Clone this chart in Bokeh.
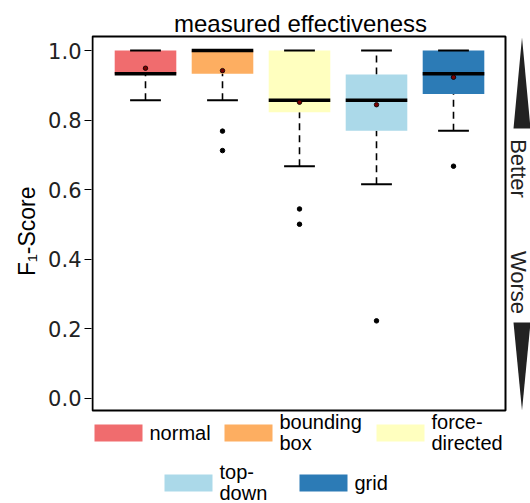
import numpy as np
from bokeh.plotting import figure
from bokeh.models import ColumnDataSource, FixedTicker, Title
from bokeh.core.properties import value
from bokeh.embed import file_html
from bokeh.resources import INLINE

# ---------------- data ----------------
categories = ["normal", "bounding box", "force-directed", "top-down", "grid"]
legend_labels = ["normal", "bounding\nbox", "force-\ndirected", "top-\ndown", "grid"]
colors = ["#F06C6E", "#FDAE61", "#FFFFBF", "#ABD9E9", "#2C7BB6"]
lower = [0.857, 0.857, 0.667, 0.615, 0.769]
q1 = [0.933, 0.933, 0.822, 0.769, 0.875]
median = [0.933, 1.000, 0.857, 0.857, 0.933]
q3 = [1.000, 1.000, 1.000, 0.931, 1.000]
upper = [1.000, 1.000, 1.000, 1.000, 1.000]
mean = [0.949, 0.942, 0.851, 0.844, 0.923]
outliers = [[], [0.768, 0.712], [0.544, 0.500], [0.222], [0.667]]
y_ticks = [0.0, 0.2, 0.4, 0.6, 0.8, 1.0]
y_tick_labels = ["0.0", "0.2", "0.4", "0.6", "0.8", "1.0"]
title_text = "measured effectiveness"
y_label = "F\u2081-Score"
arrow_labels = ["Better", "Worse"]

# ---------------- layout (pixels) ----------------
W, H = 530, 503
FX0 = 91          # frame left (canvas px)
UX = 77.0         # px per category
CX1 = 145.0       # canvas x of first category
UY = 347.5        # px per unit of F1
Y1 = 50.0         # canvas y of value 1.0

x_start = 1 - (CX1 - FX0) / UX
x_end = x_start + (W - FX0) / UX
y_end = 1 + Y1 / UY
y_start = y_end - H / UY


def xd(px):
    return x_start + (px - FX0) / UX


def yd(py):
    return y_end - py / UY


p = figure(width=W, height=H, output_backend="svg", toolbar_location=None,
           tools="", x_range=(x_start, x_end), y_range=(y_start, y_end),
           x_axis_location=None, min_border_left=FX0, min_border_right=0,
           min_border_top=0, min_border_bottom=0)
p.grid.visible = False
p.outline_line_color = None
p.background_fill_color = "white"
p.border_fill_color = "white"

ax = p.yaxis[0]
ax.ticker = FixedTicker(ticks=y_ticks)
ax.major_label_overrides = dict(zip(y_ticks, y_tick_labels))
ax.axis_line_color = None
ax.major_tick_in = 0
ax.major_tick_out = 7
ax.major_tick_line_color = "black"
ax.major_tick_line_width = 1
ax.minor_tick_line_color = None
ax.major_label_standoff = 3
ax.major_label_text_font = "DejaVu Sans"
ax.major_label_text_font_size = "21px"
ax.major_label_text_color = "#222222"

# y label as a side title so it can be placed along the panel, not the frame
ylab = Title(text=y_label, align="right", offset=186, standoff=12,
             text_font="Liberation Sans", text_font_size="23px",
             text_font_style="normal", text_color="black")
p.add_layout(ylab, "left")

xs = np.arange(1, len(categories) + 1, dtype=float)
bw = 0.8
cw = 0.4
src = ColumnDataSource(dict(
    x=xs, lower=lower, q1=q1, median=median, q3=q3, upper=upper, mean=mean,
    color=colors,
    bl=xs - bw / 2, br=xs + bw / 2, cl=xs - cw / 2, cr=xs + cw / 2,
))

# whiskers
p.segment(x0="x", x1="x", y0="lower", y1="q1", source=src, line_color="black",
          line_width=1.6, line_dash="7 5")
p.segment(x0="x", x1="x", y0="q3", y1="upper", source=src, line_color="black",
          line_width=1.6, line_dash="7 5")
# boxes
p.vbar(x="x", width=bw, bottom="q1", top="q3", source=src, fill_color="color",
       line_color=None)
# caps
p.segment(x0="cl", x1="cr", y0="lower", y1="lower", source=src, line_color="black", line_width=2)
p.segment(x0="cl", x1="cr", y0="upper", y1="upper", source=src, line_color="black", line_width=2)
# median
p.segment(x0="bl", x1="br", y0="median", y1="median", source=src, line_color="black", line_width=3.5)
# mean
p.scatter(x="x", y="mean", source=src, size=4.5, fill_color="#7a0000", line_color="black", line_width=0.8)
# outliers
ox = [xs[i] for i, vals in enumerate(outliers) for _ in vals]
oy = [v for vals in outliers for v in vals]
p.scatter(x=ox, y=oy, size=4.5, fill_color="black", line_color="black")

# panel border
p.quad(left=[xd(FX0 + 1)], right=[xd(505)], top=[yd(36)], bottom=[yd(410)],
       fill_color=None, line_color="black", line_width=2)

# title
p.text(x=[xd(300)], y=[yd(23)], text=[title_text], text_align="center",
       text_baseline="alphabetic", text_font=value("Liberation Sans"),
       text_font_size="24px", text_color="black")

# legend
sw_left = [94, 224, 376, 164, 299]
sw_row = [432.4, 432.4, 432.4, 482.4, 482.4]
SW, SH = 48, 17
p.rect(x=[xd(l + SW / 2) for l in sw_left], y=[yd(r) for r in sw_row],
       width=SW / UX, height=SH / UY, fill_color=colors, line_color=None)
p.text(x=[xd(l + SW + 7) for l in sw_left], y=[yd(r) for r in sw_row],
       text=legend_labels, text_align="left", text_baseline="middle",
       text_font=value("Liberation Sans"), text_font_size="20px",
       text_line_height=0.95, text_color="black")

# better / worse arrows
ax_c = 521.5
p.patches(xs=[[xd(ax_c - 8.5), xd(ax_c), xd(ax_c + 8.5)],
              [xd(ax_c - 8.5), xd(ax_c), xd(ax_c + 8.5)]],
          ys=[[yd(128), yd(37), yd(128)], [yd(322), yd(410), yd(322)]],
          fill_color="#222222", line_color=None)
p.text(x=[xd(518), xd(518)], y=[yd(168), yd(282)], text=arrow_labels,
       angle=-np.pi / 2, text_align="center", text_baseline="middle",
       text_font=value("Liberation Sans"), text_font_size="22px",
       text_color="#222222")

open("out.html", "w").write(file_html(p, INLINE))
